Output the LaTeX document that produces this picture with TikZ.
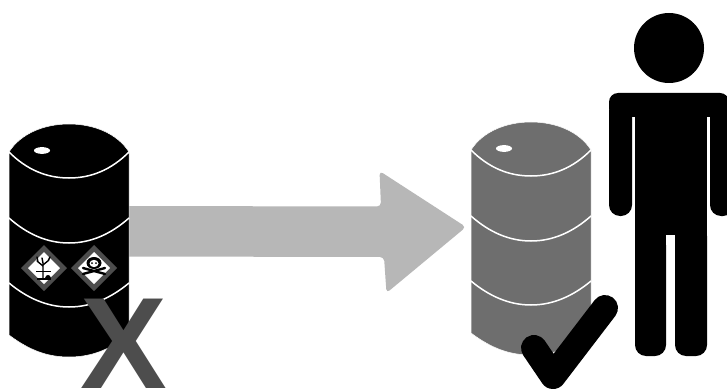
\documentclass[tikz,border=0pt]{standalone}
\usepackage{fontspec}
\setmainfont{Liberation Sans}
\usetikzlibrary{calc}
\definecolor{barrelgray}{HTML}{6E6E6E}
\definecolor{arrowgray}{HTML}{B7B7B7}
\definecolor{markgray}{HTML}{4D4D4D}
\tikzset{
  band/.style={white,line width=1.5pt},
  hazard/.style={black,line width=1.4pt,line cap=round},
  hazframe/.style={fill=markgray},
  hazface/.style={fill=white},
}
% #1 left x, #2 top y, #3 barrel colour, then y offsets are fixed
\newcommand{\mybarrel}[3]{%
  \begin{scope}[shift={(#1,#2)}]
    \fill[#3,draw=white,line width=0.5pt] (0,28) .. controls (12,9) and (36,0) .. (60,0)
      .. controls (84,0) and (108,9) .. (120,28) -- (120,211)
      .. controls (100,226) and (82,233) .. (60,233)
      .. controls (38,233) and (20,226) .. (0,211) -- cycle;
    \draw[band] (0,28) .. controls (18,46) and (38,54) .. (60,54) .. controls (82,54) and (102,46) .. (120,28);
    \draw[band] (0,94) .. controls (18,110) and (38,119) .. (60,119) .. controls (82,119) and (102,110) .. (120,94);
    \draw[band] (0,159) .. controls (18,174) and (38,183) .. (60,183) .. controls (82,183) and (102,174) .. (120,159);
    \fill[white] (33,26.5) ellipse (8 and 3.4);
  \end{scope}}
\begin{document}
\begin{tikzpicture}[x=1pt,y=-1pt]
\useasboundingbox (0,0) rectangle (727,390);
\fill[white] (0,0) rectangle (727,390);
% arrow
\fill[arrowgray,rounded corners=4pt] (125,206) -- (381,206.5) -- (379.5,171) -- (466,227) -- (386.5,293) -- (384,257) -- (125,256.5) -- cycle;
% barrels
\mybarrel{9}{124}{black}
\mybarrel{471}{122}{barrelgray}
% hazard pictograms
\fill[hazframe] (44,245) -- (67,268) -- (44,291) -- (21,268) -- cycle;
\fill[hazface] (44,252) -- (60,268) -- (44,284) -- (28,268) -- cycle;
\fill[hazframe] (94,245) -- (117,268) -- (94,291) -- (71,268) -- cycle;
\fill[hazface] (94,252) -- (110,268) -- (94,284) -- (78,268) -- cycle;
% dead tree and fish
\draw[hazard] (43,278) -- (43,263) (43,266) -- (37,261) (43,265) -- (49,260) (38,262) -- (37,257) (48,261) -- (50,257) (43,263) -- (42,258);
\draw[black,line width=0.5pt] (36,271) -- (51,271);
\fill[black] (37,278) rectangle (51,280);
\fill[black] (45,278) .. controls (46,274) and (50,274) .. (51,278) -- cycle;
% skull and crossbones
\fill[black] (94,263) ellipse (7.5 and 6);
\fill[white] (94,263.5) ellipse (4.5 and 3.6);
\fill[black] (92,263) circle (1) (96,263) circle (1);
\draw[black,line width=2.4pt,line cap=round] (83,268) -- (105,274) (105,268) -- (83,274);
% X
\node[markgray,inner sep=0pt,outer sep=0pt,anchor=base,font=\bfseries\fontsize{130}{130}\selectfont] (crossmark) at (123.5,388) {X};
% person
\fill[black] (669,48) circle (35);
\fill[black,rounded corners=9pt] (609,93) -- (729,93) -- (729,117) -- (609,117) -- cycle;
\fill[black,rounded corners=11pt] (609,100) -- (609,216) -- (632,216) -- (632,100) -- cycle;
\fill[black,rounded corners=11pt] (710,100) -- (710,216) -- (734,216) -- (734,100) -- cycle;
\fill[black] (632,100) rectangle (710,117);
\fill[black] (635,110) rectangle (707,240);
\fill[black,rounded corners=11pt] (635,225) -- (635,356) -- (666,356) -- (666,225) -- cycle;
\fill[black,rounded corners=11pt] (675,225) -- (675,356) -- (707,356) -- (707,225) -- cycle;
\fill[black] (635,225) rectangle (666,240);
\fill[black] (675,225) rectangle (707,240);
\fill[white] (666,235) rectangle (675,245);
% check mark
\draw[black,line width=26pt,line cap=round,line join=round] (534,348) -- (553,376) -- (605,308);
\end{tikzpicture}
\end{document}
